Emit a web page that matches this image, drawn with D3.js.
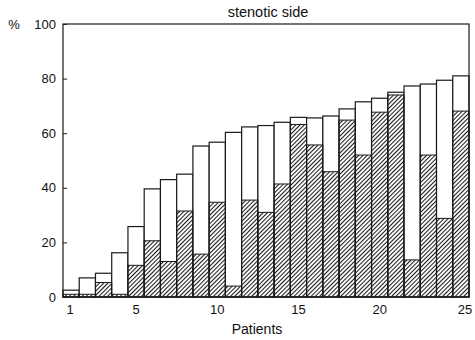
<!DOCTYPE html>
<html>
<head>
<meta charset="utf-8">
<script src="https://cdn.jsdelivr.net/npm/d3@7"></script>
<style>
html,body{margin:0;padding:0;background:#fff;}
svg text{font-family:"Liberation Sans",Arial,sans-serif;fill:#111;}
</style>
</head>
<body>
<svg id="chart" width="475" height="340"></svg>
<script>
const patients = d3.range(1, 26);
const totalValues = [2.5, 7, 8.7, 16.2, 25.8, 39.6, 43, 45, 55.3, 56.7, 60.3, 62.3, 62.8, 64, 65.8, 65.6, 66.3, 68.9, 71.5, 72.8, 75, 77.3, 78, 79.4, 81];
const hatchedValues = [1, 1, 5.3, 1, 11.6, 20.6, 13, 31.5, 15.7, 34.7, 4, 35.5, 31, 41.4, 63.2, 55.7, 45.9, 64.8, 52, 67.7, 74, 13.6, 52, 28.8, 68.1];
const yTicks = [0, 20, 40, 60, 80, 100];
const xTickLabels = [1, 5, 10, 15, 20, 25];
const title = "stenotic side";
const xTitle = "Patients";
const yTitle = "%";

const svg = d3.select("#chart");
const margin = {top: 24, right: 6, bottom: 43, left: 63};
const W = 475, H = 340;
const x = d3.scaleBand().domain(patients).range([margin.left, W - margin.right]).padding(0);
const y = d3.scaleLinear().domain([0, 100]).range([H - margin.bottom, margin.top]);
const ink = "#1a1a1a";

const defs = svg.append("defs");
defs.append("pattern")
  .attr("id", "hatch").attr("patternUnits", "userSpaceOnUse")
  .attr("width", 3).attr("height", 3)
  .attr("patternTransform", "rotate(45)")
  .append("line").attr("x1", 0.5).attr("y1", 0).attr("x2", 0.5).attr("y2", 3)
  .attr("stroke", ink).attr("stroke-width", 1.1);

// outer bars
svg.append("g").selectAll("rect").data(patients).join("rect")
  .attr("x", d => x(d)).attr("width", x.bandwidth())
  .attr("y", (d, i) => y(totalValues[i]))
  .attr("height", (d, i) => y(0) - y(totalValues[i]))
  .attr("fill", "#fff").attr("stroke", ink).attr("stroke-width", 1.2);

// hatched bars
svg.append("g").selectAll("rect").data(patients).join("rect")
  .attr("x", d => x(d)).attr("width", x.bandwidth())
  .attr("y", (d, i) => y(hatchedValues[i]))
  .attr("height", (d, i) => y(0) - y(hatchedValues[i]))
  .attr("fill", "url(#hatch)").attr("stroke", ink).attr("stroke-width", 1);

// frame
svg.append("rect")
  .attr("x", margin.left).attr("y", margin.top)
  .attr("width", W - margin.left - margin.right)
  .attr("height", H - margin.top - margin.bottom)
  .attr("fill", "none").attr("stroke", ink).attr("stroke-width", 1.2);

// y axis
const yAxis = svg.append("g").attr("transform", `translate(${margin.left},0)`)
  .call(d3.axisLeft(y).tickValues(yTicks).tickSizeInner(-4).tickSizeOuter(0).tickPadding(7));
yAxis.select(".domain").remove();
yAxis.selectAll("line").attr("stroke", ink);
yAxis.selectAll("text").attr("font-size", 13).style("font-family", "'Liberation Sans',Arial,sans-serif").attr("fill", ink);

// x axis
const xAxis = svg.append("g").attr("transform", `translate(0,${H - margin.bottom})`)
  .call(d3.axisBottom(x).tickValues(xTickLabels).tickSize(0).tickPadding(8));
xAxis.select(".domain").remove();
xAxis.selectAll("text").attr("font-size", 13).style("font-family", "'Liberation Sans',Arial,sans-serif").attr("fill", ink)
  .attr("dx", d => d === 25 ? 4 : (d === 1 ? -1 : 0));

svg.append("text").attr("x", 268).attr("y", 17)
  .attr("text-anchor", "middle").attr("font-size", 14.5).text(title);
svg.append("text").attr("x", 257).attr("y", 334)
  .attr("text-anchor", "middle").attr("font-size", 14).text(xTitle);
svg.append("text").attr("x", 14).attr("y", y(100) + 5)
  .attr("text-anchor", "middle").attr("font-size", 13).text(yTitle);
</script>
</body>
</html>
